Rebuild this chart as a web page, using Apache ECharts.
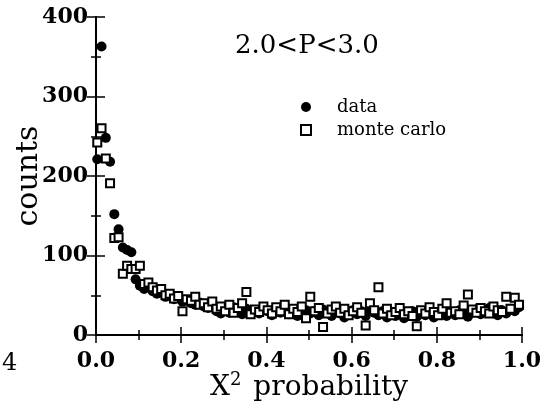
<!DOCTYPE html>
<html><head><meta charset="utf-8">
<script src="https://cdn.jsdelivr.net/npm/echarts@6/dist/echarts.min.js"></script>
<style>html,body{margin:0;padding:0;background:#fff}#c{width:544px;height:404px}</style>
</head><body><div id="c"></div>
<script>
var xTicks = [0.0, 0.2, 0.4, 0.6, 0.8, 1.0];
var yTicks = [0, 100, 200, 300, 400];
var binWidth = 0.01, binStart = 0.003;
var dataCounts = [
 221,363,248,218,152,133,110,107,104,70,
 62,58,60,55,52,54,48,50,45,47,
 42,44,40,38,41,36,34,38,30,27,
 32,28,35,30,26,33,29,31,27,34,
 30,25,32,28,33,26,30,24,29,31,
 27,30,25,32,28,24,30,27,22,29,
 31,26,30,24,33,28,25,30,22,27,
 24,29,21,26,30,23,27,25,28,22,
 26,30,24,28,25,31,27,23,29,32,
 26,30,34,28,25,31,27,33,30,35];
var mcCounts = [
 242,260,222,191,122,123,77,87,83,83,
 87,64,66,60,56,58,50,52,46,49,
 30,45,43,48,38,40,35,42,33,36,
 30,38,28,34,40,54,26,32,29,36,
 31,27,35,30,38,26,33,29,36,21,
 48,30,34,10,27,32,36,28,33,25,
 30,35,28,12,40,31,60,27,33,25,
 29,34,26,30,24,11,31,27,35,29,
 25,33,40,28,30,26,37,51,32,28,
 34,30,27,36,31,29,48,33,47,38];
function pts(arr){return arr.map(function(v,i){return [+(binStart+binWidth*i).toFixed(4), v];});}
var serif = 'DejaVu Serif';
var chart = echarts.init(document.getElementById('c'), null, {renderer:'canvas'});
var axisCommon = {
  axisLine:{lineStyle:{color:'#000',width:2}},
  splitLine:{show:false},
};
chart.setOption({
  animation:false,
  backgroundColor:'#fff',
  grid:{left:96,right:22,top:17,bottom:69,containLabel:false,outerBoundsMode:'none'},
  title:{text:'2.0<P<3.0',left:230,top:28,textStyle:{fontFamily:serif,fontSize:26,fontWeight:'normal',color:'#000'}},
  legend:{orient:'vertical',left:295,top:93,itemWidth:10,itemHeight:10,itemGap:5,
    textStyle:{fontFamily:serif,fontSize:18,color:'#000',padding:[0,0,0,21]},
    data:['data','monte carlo']},
  xAxis:[
    Object.assign({type:'value',min:0,max:1,interval:0.2,position:'bottom',
      name:'X{s|2} probability',nameLocation:'middle',nameGap:36,nameMoveOverlap:false,
      nameTextStyle:{fontFamily:serif,fontSize:28,color:'#000',rich:{s:{fontFamily:serif,fontSize:18,verticalAlign:'top',padding:[0,3,16,0]}}},
      axisTick:{inside:true,length:8,lineStyle:{color:'#000',width:1.5}},
      minorTick:{show:true,splitNumber:2,length:5,lineStyle:{color:'#000',width:1.5}},
      axisLabel:{fontFamily:serif,fontSize:22,fontWeight:'bold',color:'#000',margin:15,formatter:function(v){return v.toFixed(1);}}
    },axisCommon),
    Object.assign({type:'value',min:0,max:1,interval:0.2,position:'top',
      axisTick:{inside:true,length:8,lineStyle:{color:'#000',width:1.5}},
      minorTick:{show:true,splitNumber:2,length:5,lineStyle:{color:'#000',width:1.5}},
      axisLabel:{show:false}},axisCommon)
  ],
  yAxis:[
    Object.assign({type:'value',min:0,max:400,interval:100,position:'left',
      name:'counts',nameLocation:'middle',nameGap:52,nameMoveOverlap:false,
      nameTextStyle:{fontFamily:serif,fontSize:30,color:'#000'},
      axisTick:{inside:true,length:9,lineStyle:{color:'#000',width:1.5}},
      minorTick:{show:true,splitNumber:2,length:5,lineStyle:{color:'#000',width:1.5}},
      axisLabel:{fontFamily:serif,fontSize:22,fontWeight:'bold',color:'#000',margin:8}
    },axisCommon),
    Object.assign({type:'value',min:0,max:400,interval:100,position:'right',
      axisTick:{inside:true,length:9,lineStyle:{color:'#000',width:1.5}},
      minorTick:{show:true,splitNumber:2,length:5,lineStyle:{color:'#000',width:1.5}},
      axisLabel:{show:false}},axisCommon)
  ],
  graphic:[{type:'text',left:2,top:352,style:{text:'4',fontFamily:serif,fontSize:24,fill:'#000'}}],
  series:[
    {name:'data',type:'scatter',symbol:'circle',symbolSize:10,data:pts(dataCounts),
     itemStyle:{color:'#000',opacity:1}},
    {name:'monte carlo',type:'scatter',symbol:'rect',symbolSize:8,data:pts(mcCounts),
     itemStyle:{color:'#fff',borderColor:'#000',borderWidth:2,opacity:1}}
  ]
});
</script></body></html>
